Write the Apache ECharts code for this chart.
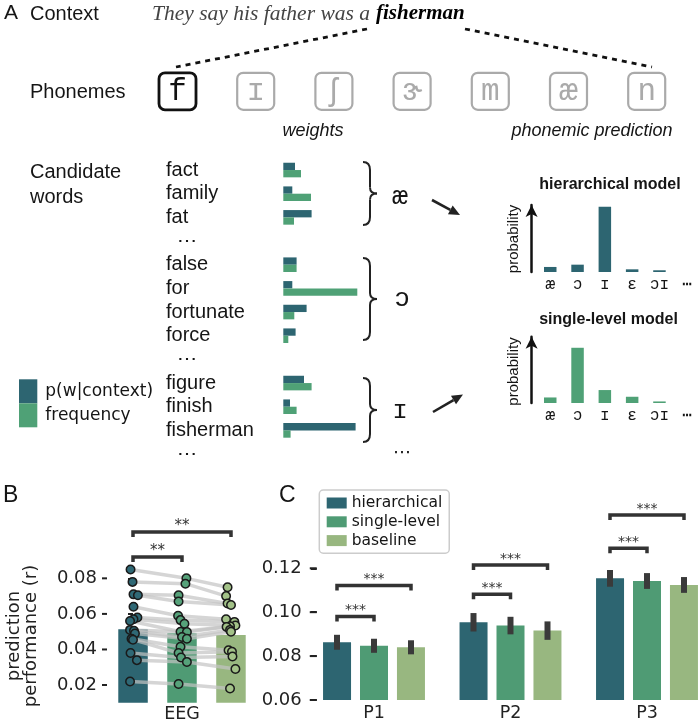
<!DOCTYPE html>
<html><head><meta charset="utf-8">
<script src="https://cdn.jsdelivr.net/npm/echarts@6/dist/echarts.min.js"></script>
<style>html,body{margin:0;padding:0;background:#fff}#c{width:700px;height:722px}</style>
</head><body><div id="c"></div>
<script>
// ================= DATA =================
const contextText = 'They say his father was a';
const targetWord = 'fisherman';
const phonemes = ['f', 'ɪ', 'ʃ', 'ɝ', 'm', 'æ', 'n'];
const candidateWords = ['fact', 'family', 'fat', '⋯', 'false', 'for', 'fortunate', 'force', '⋯', 'figure', 'finish', 'fisherman', '⋯'];
const pContext  = [0.117, 0.090, 0.283, null, 0.133, 0.090, 0.233, 0.123, null, 0.207, 0.067, 0.723, null];
const frequency = [0.177, 0.277, 0.107, null, 0.133, 0.740, 0.110, 0.050, null, 0.283, 0.133, 0.073, null];
const groupPhonemes = ['æ', 'ɔ', 'ɪ', '⋯'];
const predPhonemes = ['æ', 'ɔ', 'ɪ', 'ɛ', 'ɔɪ', '⋯'];
const probHierarchical = [0.064, 0.093, 0.828, 0.034, 0.022, null];
const probSingleLevel  = [0.071, 0.708, 0.166, 0.080, 0.020, null];
const modelNames = ['hierarchical', 'single-level', 'baseline'];
const eegCategories = ['EEG'];
const eegMeans = [0.0513, 0.0491, 0.0481];
const eegHier   = [0.085, 0.078, 0.071, 0.0705, 0.064, 0.058, 0.057, 0.056, 0.051, 0.0505, 0.049, 0.046, 0.0455, 0.038, 0.034, 0.022];
const eegSingle = [0.080, 0.077, 0.0705, 0.067, 0.059, 0.0565, 0.0545, 0.050, 0.0498, 0.047, 0.046, 0.0415, 0.038, 0.0355, 0.033, 0.0206];
const eegBase   = [0.075, 0.070, 0.0658, 0.065, 0.057, 0.0555, 0.0535, 0.053, 0.0527, 0.051, 0.050, 0.0396, 0.0387, 0.036, 0.029, 0.018];
const jitterHier   = [-0.05, -0.01, 0.01, 0.10, 0.01, 0.09, 0.01, -0.06, -0.06, 0.02, 0.04, -0.03, 0.00, -0.05, 0.08, -0.06];
const jitterSingle = [0.09, 0.07, -0.07, -0.07, -0.08, -0.03, 0.05, -0.03, 0.10, 0.00, 0.10, -0.03, -0.07, -0.02, 0.10, -0.07];
const jitterBase   = [-0.07, -0.10, -0.07, 0.00, -0.10, 0.07, 0.09, -0.02, -0.09, -0.02, 0.00, -0.05, 0.02, 0.03, 0.09, -0.02];
const eegSig = [[0, 1, 0.092], [0, 2, 0.1061]];
const eegStars = ['**', '**'];
const eegTicks = [0.02, 0.04, 0.06, 0.08];
const meaCategories = ['P1', 'P2', 'P3'];
const meaHier   = [0.0863, 0.0954, 0.1154];
const meaSingle = [0.0847, 0.0939, 0.1142];
const meaBase   = [0.0840, 0.0916, 0.1124];
const errHier   = [0.0034, 0.0042, 0.0038];
const errSingle = [0.0032, 0.0040, 0.0036];
const errBase   = [0.0032, 0.0042, 0.0036];
const meaSig = [[0, 0, 1, 0.0980], [0, 0, 2, 0.1121], [1, 0, 1, 0.1082], [1, 0, 2, 0.1215], [2, 0, 1, 0.1291], [2, 0, 2, 0.1443]];
const meaStars = ['***', '***', '***', '***', '***', '***'];
const meaTicks = [0.06, 0.08, 0.10, 0.12];

// ================= STYLE =================
const DARK = '#2d6571', GREEN = '#4f9b74', LIGHT = '#98b780', AGREEN = '#4fa176';
const PT_COLORS = ['#2f6875', '#56a27a', '#a3c288'];
const BAR_COLORS = [DARK, GREEN, LIGHT];
const FS = 'Liberation Sans, Arial, sans-serif';
const FD = 'DejaVu Sans, sans-serif';
const FM = 'Liberation Mono, DejaVu Sans Mono, monospace';
const FSERIF = 'Liberation Serif, Times New Roman, serif';
const INK = '#151515';

const chart = echarts.init(document.getElementById('c'), null, {renderer: 'canvas'});

function txt(x, y, text, st, extra) {
  return Object.assign({type: 'text', x: x, y: y, silent: true,
    style: Object.assign({text: text, fill: INK, fontFamily: FS, fontSize: 20, align: 'left', verticalAlign: 'middle'}, st)}, extra || {});
}
const graphics = [];
graphics.push(txt(4, 13, 'A', {fontSize: 21}));
graphics.push(txt(30, 14, 'Context', {fontSize: 20}));
graphics.push({type: 'text', x: 152, y: 14, silent: true, style: {
  text: '{a|' + contextText + '}{b|' + targetWord + '}', verticalAlign: 'middle', align: 'left',
  rich: {a: {fontFamily: FSERIF, fontStyle: 'italic', fontSize: 21.5, fill: '#444'},
         b: {fontFamily: FSERIF, fontStyle: 'italic', fontWeight: 'bold', fontSize: 21, fill: '#000', padding: [0, 0, 0, 6]}}}});
graphics.push({type: 'line', silent: true, shape: {x1: 367, y1: 29, x2: 176, y2: 67}, style: {stroke: '#111', lineWidth: 2.8, lineDash: [5, 5]}});
graphics.push({type: 'line', silent: true, shape: {x1: 465, y1: 29, x2: 652, y2: 67}, style: {stroke: '#111', lineWidth: 2.8, lineDash: [5, 5]}});
graphics.push(txt(30, 92, 'Phonemes', {fontSize: 20}));
phonemes.forEach(function (p, i) {
  const cx = 177.5 + 78.2 * i, active = i === 0;
  const col = active ? '#111' : '#aaa';
  graphics.push({type: 'rect', silent: true, shape: {x: cx - 18.5, y: 72.8, width: 37, height: 37, r: 6},
    style: {fill: '#fff', stroke: col, lineWidth: active ? 2.8 : 2.2}});
  graphics.push(txt(cx, 92, p, {fontFamily: FM, fontSize: 31, fill: col, align: 'center'}));
});
graphics.push(txt(313, 131, 'weights', {fontSize: 18, fontStyle: 'italic', align: 'center'}));
graphics.push(txt(592, 131, 'phonemic prediction', {fontSize: 18, fontStyle: 'italic', align: 'center'}));
graphics.push(txt(30, 172, 'Candidate', {fontSize: 20}));
graphics.push(txt(30, 197, 'words', {fontSize: 20}));
// braces built from quadratic curves and straight lines
const BR = {stroke: '#222', lineWidth: 2, fill: null};
[[162, 225], [258, 340], [378, 442]].forEach(function (b) {
  const y0 = b[0], y1 = b[1], m = (y0 + y1) / 2;
  graphics.push({type: 'bezierCurve', silent: true, shape: {x1: 363, y1: y0, cpx1: 370, cpy1: y0, x2: 370, y2: y0 + 8}, style: BR});
  graphics.push({type: 'line', silent: true, shape: {x1: 370, y1: y0 + 8, x2: 370, y2: m - 6}, style: BR});
  graphics.push({type: 'bezierCurve', silent: true, shape: {x1: 370, y1: m - 6, cpx1: 370, cpy1: m, x2: 377, y2: m}, style: BR});
  graphics.push({type: 'bezierCurve', silent: true, shape: {x1: 377, y1: m, cpx1: 370, cpy1: m, x2: 370, y2: m + 6}, style: BR});
  graphics.push({type: 'line', silent: true, shape: {x1: 370, y1: m + 6, x2: 370, y2: y1 - 8}, style: BR});
  graphics.push({type: 'bezierCurve', silent: true, shape: {x1: 370, y1: y1 - 8, cpx1: 370, cpy1: y1, x2: 363, y2: y1}, style: BR});
});
const groupPos = [[400, 196.7], [402, 299], [400, 411], [402, 453]];
groupPhonemes.forEach(function (p, i) {
  graphics.push(txt(groupPos[i][0], groupPos[i][1], p, {fontFamily: i === 3 ? FD : FM, fontSize: i === 3 ? 18 : 26, align: 'center'}));
});
function arrow(x1, y1, x2, y2) {
  const dx = x2 - x1, dy = y2 - y1, L = Math.sqrt(dx * dx + dy * dy), ux = dx / L, uy = dy / L;
  const bx = x2 - 11 * ux, by = y2 - 11 * uy;
  graphics.push({type: 'line', silent: true, shape: {x1: x1, y1: y1, x2: bx, y2: by}, style: {stroke: '#222', lineWidth: 2.6}});
  graphics.push({type: 'polygon', silent: true, shape: {points: [[x2, y2], [bx - 5 * uy, by + 5 * ux], [bx + 5 * uy, by - 5 * ux]]}, style: {fill: '#222'}});
}
arrow(432, 200, 460, 215);
arrow(433, 412, 463, 394.5);
graphics.push(txt(610, 185, 'hierarchical model', {fontSize: 16, fontWeight: 'bold', align: 'center'}));
graphics.push(txt(608.5, 320, 'single-level model', {fontSize: 16, fontWeight: 'bold', align: 'center'}));
graphics.push(txt(514, 239, 'probability', {fontSize: 15, align: 'center'}, {rotation: Math.PI / 2}));
graphics.push(txt(514, 371.5, 'probability', {fontSize: 15, align: 'center'}, {rotation: Math.PI / 2}));
graphics.push(txt(3, 496, 'B', {fontSize: 23}));
graphics.push(txt(279, 496, 'C', {fontSize: 23}));
graphics.push(txt(23, 636, 'prediction\nperformance (r)', {fontFamily: FD, fontSize: 18, lineHeight: 17, align: 'center', fill: '#222'}, {rotation: Math.PI / 2}));

// ================= AXES =================
const hideAll = {axisLine: {show: false}, axisTick: {show: false}, splitLine: {show: false}};
const grids = [
  {left: 283.3, top: 158.2, width: 100, height: 307.7},
  {left: 536.6, top: 205, width: 163.8, height: 67},
  {left: 536.6, top: 336.7, width: 163.8, height: 66.3},
  {left: 107, top: 525, width: 150, height: 177.8},
  {left: 305.75, top: 502.4, width: 409.5, height: 197.6}
].map(function (g) { return Object.assign({containLabel: false, outerBoundsMode: 'none'}, g); });

const probX = function (gi) {
  return Object.assign({type: 'category', gridIndex: gi, data: predPhonemes,
    axisLabel: {fontFamily: FM, fontSize: 16, color: INK, margin: 5, interval: 0}}, hideAll);
};
const probY = function (gi) {
  return {type: 'value', gridIndex: gi, min: 0, max: 0.85, offset: 5,
    axisLine: {show: true, symbol: ['none', 'arrow'], symbolSize: [9, 12], lineStyle: {color: '#111', width: 2.5}},
    axisTick: {show: false}, axisLabel: {show: false}, splitLine: {show: false}};
};
const xAxes = [
  {type: 'value', gridIndex: 0, min: 0, max: 1, show: false},
  probX(1), probX(2),
  Object.assign({type: 'category', gridIndex: 3, data: eegCategories,
    axisLabel: {fontFamily: FD, fontSize: 17.5, color: '#222', margin: 3}}, hideAll),
  {type: 'value', gridIndex: 3, min: -0.5306, max: 2.5306, show: false},
  Object.assign({type: 'category', gridIndex: 4, data: meaCategories,
    axisLabel: {fontFamily: FD, fontSize: 17.5, color: '#222', margin: 4}}, hideAll)
];
const yAxes = [
  Object.assign({type: 'category', gridIndex: 0, data: candidateWords, inverse: true,
    axisLabel: {align: 'left', margin: 117.3, fontFamily: FS, fontSize: 20, color: INK, interval: 0,
      formatter: function (v) { return v === '⋯' ? '  ⋯' : v; }}}, hideAll),
  probY(1), probY(2),
  {type: 'value', gridIndex: 3, min: 0.01, max: 0.11, axisLine: {show: false}, splitLine: {show: false},
    axisTick: {show: true, customValues: eegTicks, length: 5, lineStyle: {color: '#222', width: 2}},
    axisLabel: {customValues: eegTicks, margin: 10, fontFamily: FD, fontSize: 18, color: '#222',
      formatter: function (v) { return v.toFixed(2); }}},
  {type: 'value', gridIndex: 4, min: 0.06, max: 0.15, offset: -11, axisLine: {show: false}, splitLine: {show: false},
    axisTick: {show: true, customValues: meaTicks, length: 6, lineStyle: {color: '#222', width: 2}},
    axisLabel: {customValues: meaTicks, margin: 15, fontFamily: FD, fontSize: 18, color: '#222',
      formatter: function (v) { return v.toFixed(2); }}}
];

// ================= SERIES =================
const series = [];
series.push({type: 'bar', name: 'p(w|context)', xAxisIndex: 0, yAxisIndex: 0, data: pContext, barWidth: 7.3, barGap: '0%', itemStyle: {color: DARK}, silent: true});
series.push({type: 'bar', name: 'frequency', xAxisIndex: 0, yAxisIndex: 0, data: frequency, barWidth: 7.3, barGap: '0%', itemStyle: {color: AGREEN}, silent: true});
series.push({type: 'bar', name: 'hierarchical model', xAxisIndex: 1, yAxisIndex: 1, data: probHierarchical, barWidth: 12.5, itemStyle: {color: DARK}, silent: true});
series.push({type: 'bar', name: 'single-level model', xAxisIndex: 2, yAxisIndex: 2, data: probSingleLevel, barWidth: 12.5, itemStyle: {color: AGREEN}, silent: true});
eegMeans.forEach(function (m, i) {
  series.push({type: 'bar', name: modelNames[i], xAxisIndex: 3, yAxisIndex: 3, data: [m], barWidth: 29.5, barGap: '66%',
    itemStyle: {color: BAR_COLORS[i]}, z: 2, silent: true});
});
const eegVals = [eegHier, eegSingle, eegBase], eegJit = [jitterHier, jitterSingle, jitterBase];
eegHier.forEach(function (_, s) {
  series.push({type: 'line', xAxisIndex: 4, yAxisIndex: 3, silent: true, symbol: 'none', z: 3,
    data: [0, 1, 2].map(function (c) { return [c + eegJit[c][s], eegVals[c][s]]; }),
    lineStyle: {color: 'rgba(195,195,195,0.7)', width: 3.5}});
});
[0, 1, 2].forEach(function (c) {
  series.push({type: 'scatter', xAxisIndex: 4, yAxisIndex: 3, silent: true, z: 4, symbolSize: 8.5,
    data: eegVals[c].map(function (v, s) { return [c + eegJit[c][s], v]; }),
    itemStyle: {color: PT_COLORS[c], borderColor: '#1a1a1a', borderWidth: 1.5, opacity: 1}});
});
function bracketGroup(x1, x2, y, label, fs) {
  return {type: 'group', children: [
    {type: 'polyline', shape: {points: [[x1, y + 5], [x1, y], [x2, y], [x2, y + 5]]}, style: {stroke: '#333', lineWidth: 3.5, fill: null}},
    {type: 'text', x: (x1 + x2) / 2, y: y - 6, style: {text: label, fill: '#333', fontFamily: FD, fontSize: fs, align: 'center', verticalAlign: 'middle'}}
  ]};
}
series.push({type: 'custom', xAxisIndex: 4, yAxisIndex: 3, clip: false, silent: true, z: 5, data: eegSig,
  renderItem: function (params, api) {
    const p1 = api.coord([api.value(0), api.value(2)]), p2 = api.coord([api.value(1), api.value(2)]);
    return bracketGroup(p1[0], p2[0], p1[1], eegStars[params.dataIndex], 15);
  }});
// EEG y tick marks (drawn from the y scale at each tick value)
series.push({type: 'custom', xAxisIndex: 4, yAxisIndex: 3, clip: false, silent: true, z: 6,
  data: eegTicks.map(function (v) { return [0, v]; }),
  renderItem: function (params, api) {
    const y = api.coord([0, api.value(1)])[1];
    const x0 = params.coordSys.x;
    return {type: 'line', shape: {x1: x0 - 5, y1: y, x2: x0, y2: y}, style: {stroke: '#222', lineWidth: 2}};
  }});
const meaVals = [meaHier, meaSingle, meaBase], meaErr = [errHier, errSingle, errBase];
meaVals.forEach(function (vals, i) {
  series.push({type: 'bar', name: modelNames[i], xAxisIndex: 5, yAxisIndex: 4, data: vals, barWidth: 28, barGap: '32%',
    itemStyle: {color: BAR_COLORS[i]}, silent: true});
});
const OFFS = [-37, 0, 37];
const errData = [];
meaVals.forEach(function (vals, s) { vals.forEach(function (v, i) { errData.push([i, v - meaErr[s][i], v + meaErr[s][i], s]); }); });
// tick marks for the MEA y axis share the same custom series (kind 3 = tick)
meaTicks.forEach(function (v) { errData.push([0, v, v, 3]); });
series.push({type: 'custom', xAxisIndex: 5, yAxisIndex: 4, clip: false, silent: true, z: 6, data: errData,
  renderItem: function (params, api) {
    const lo = api.coord([api.value(0), api.value(1)]), hi = api.coord([api.value(0), api.value(2)]);
    const kind = api.value(3);
    if (kind === 3) {
      const band = api.size([1, 0])[0];
      const x0 = lo[0] - band / 2 + 11;
      return {type: 'line', shape: {x1: x0 - 7, y1: lo[1], x2: x0, y2: lo[1]}, style: {stroke: '#222', lineWidth: 2}};
    }
    const x = lo[0] + OFFS[kind];
    return {type: 'rect', shape: {x: x - 3, y: hi[1], width: 6, height: lo[1] - hi[1]}, style: {fill: '#3a3a3a'}};
  }});
series.push({type: 'custom', xAxisIndex: 5, yAxisIndex: 4, clip: false, silent: true, z: 5, data: meaSig,
  renderItem: function (params, api) {
    const b = api.coord([api.value(0), api.value(3)]);
    return bracketGroup(b[0] + OFFS[api.value(1)], b[0] + OFFS[api.value(2)], b[1], meaStars[params.dataIndex], 14);
  }});

const option = {
  animation: false,
  backgroundColor: '#fff',
  grid: grids, xAxis: xAxes, yAxis: yAxes, series: series, graphic: graphics,
  legend: [
    {data: ['p(w|context)', 'frequency'], left: 19, top: 379.3, orient: 'vertical', itemWidth: 18.3, itemHeight: 24, itemGap: 0,
     icon: 'rect', padding: 0, selectedMode: false, textStyle: {fontFamily: FD, fontSize: 17, color: INK, padding: [0, 0, 0, 3]}},
    {data: modelNames, left: 319.3, top: 490, orient: 'vertical', itemWidth: 20, itemHeight: 11, itemGap: 2.8, icon: 'rect',
     selectedMode: false, padding: [5, 7, 4.6, 7.4], borderColor: '#ccc', borderWidth: 1.5, borderRadius: 4, backgroundColor: '#fff',
     textStyle: {fontFamily: FD, fontSize: 15.5, color: INK}, z: 10}
  ]
};
chart.setOption(option);
</script></body></html>
